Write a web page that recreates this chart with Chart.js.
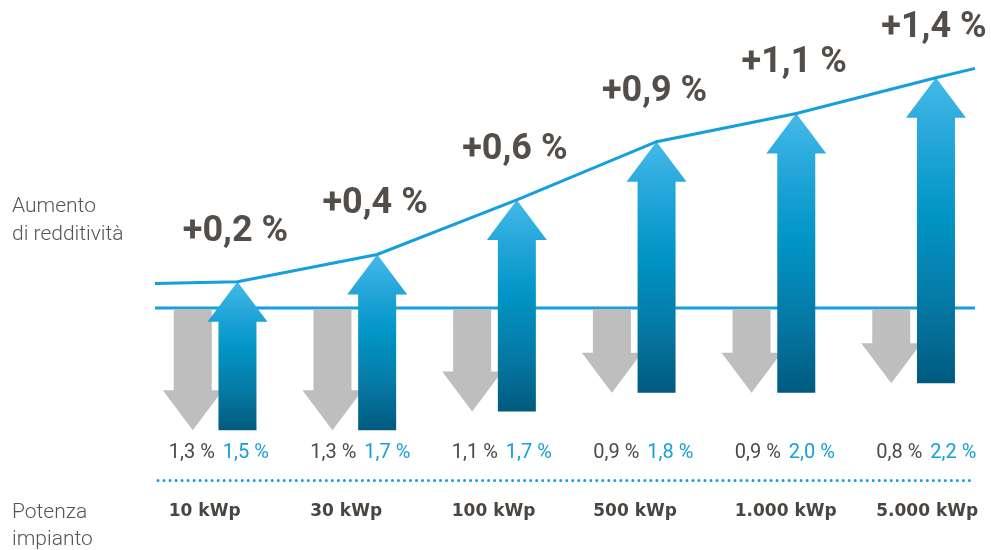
<!DOCTYPE html>
<html lang="it">
<head>
<meta charset="utf-8">
<title>Aumento di redditività</title>
<script src="https://cdn.jsdelivr.net/npm/chart.js@4.4.1/dist/chart.umd.min.js"></script>
<style>
  html, body { margin: 0; padding: 0; background: #fff; }
  #wrap { width: 991px; height: 550px; }
</style>
</head>
<body>
<div id="wrap"><canvas id="chart" width="991" height="550"></canvas></div>
<script>
const CATEGORIES = ['10 kWp', '30 kWp', '100 kWp', '500 kWp', '1.000 kWp', '5.000 kWp'];
const LOSS = [1.3, 1.3, 1.1, 0.9, 0.9, 0.8];   // grey arrows (down)
const GAIN = [1.5, 1.7, 1.7, 1.8, 2.0, 2.2];   // blue values
const NET = [0.2, 0.4, 0.6, 0.9, 1.1, 1.4];    // big labels
// tip of each blue arrow as drawn -- the graphic is not to scale above the baseline
const ARROW_TOP = [0.28, 0.57, 1.15, 1.77, 2.07, 2.45];
// the trend line runs a bit past the first and last arrow
const LINE_LEAD = { x: -0.59, y: 0.26 };
const LINE_TAIL = { x: 5.28, y: 2.55 };

const GREY_SHIFT = -0.32;   // grey arrow sits left of its blue partner
const BLUE = '#159fdc';
const GREY_ARROW = '#bebebe';
const TEXT = '#4e4945';

const fmt = v => v.toFixed(1).replace('.', ',');

// --- arrows: bar geometry comes from Chart.js, we only change the shape ---

function drawArrow(ctx, el, up, fill) {
  const { x, y, base, width } = el.getProps(['x', 'y', 'base', 'width'], true);
  const half = width / 2;
  const headHalf = half + 11;
  const headH = 40;
  // floating bars may come back with y/base swapped
  const tip = up ? Math.min(y, base) : Math.max(y, base);
  const foot = up ? Math.max(y, base) : Math.min(y, base) + 1;
  const neck = up ? tip + headH : tip - headH;
  ctx.beginPath();
  ctx.moveTo(x - half, foot);
  ctx.lineTo(x - half, neck);
  ctx.lineTo(x - headHalf, neck);
  ctx.lineTo(x, tip);
  ctx.lineTo(x + headHalf, neck);
  ctx.lineTo(x + half, neck);
  ctx.lineTo(x + half, foot);
  ctx.closePath();
  ctx.fillStyle = typeof fill === 'function' ? fill(ctx, tip, foot) : fill;
  ctx.fill();
}

function blueGradient(ctx, top, bottom) {
  const g = ctx.createLinearGradient(0, top, 0, bottom);
  g.addColorStop(0, '#43bae8');
  g.addColorStop(0.18, '#28a8dc');
  g.addColorStop(0.45, '#0095c5');
  g.addColorStop(0.75, '#0678a4');
  g.addColorStop(1, '#005a7e');
  return g;
}

const arrowPlugin = {
  id: 'arrows',
  beforeDatasetDraw(chart, args) {
    if (chart.data.datasets[args.index].arrow) return false;
  },
  afterDatasetDraw(chart, args) {
    // arrows go right after the baseline, under the trend line
    if (!chart.data.datasets[args.index].isBaseline) return;
    const ctx = chart.ctx;
    ctx.save();
    chart.getDatasetMeta(0).data.forEach(el => drawArrow(ctx, el, false, GREY_ARROW));
    chart.getDatasetMeta(1).data.forEach(el => drawArrow(ctx, el, true, blueGradient));
    ctx.restore();
  },
};

// --- texts ---

const textPlugin = {
  id: 'texts',
  afterDraw(chart) {
    const ctx = chart.ctx;
    const grey = chart.getDatasetMeta(0).data;
    const blue = chart.getDatasetMeta(1).data;
    const xs = chart.scales.x;
    ctx.save();
    ctx.textBaseline = 'alphabetic';

    // big net gain above each blue arrow
    ctx.font = 'bold 36px Roboto';
    ctx.fillStyle = '#534e4a';
    ctx.textAlign = 'center';
    blue.forEach((el, i) => {
      const tip = Math.min(el.y, el.base);
      ctx.fillText('+' + fmt(NET[i]) + ' %', el.x - 2, tip - 41);
    });

    // loss / gain values and plant size, left aligned under the grey arrow
    ctx.textAlign = 'left';
    grey.forEach((el, i) => {
      const left = el.x - 24 + 1.8 * i;
      ctx.font = '20px Roboto';
      ctx.fillStyle = TEXT;
      const lossTxt = fmt(LOSS[i]) + ' %';
      ctx.fillText(lossTxt, left, 458);
      ctx.fillStyle = BLUE;
      ctx.fillText(fmt(GAIN[i]) + ' %', left + ctx.measureText(lossTxt).width + 8, 458);

      ctx.font = 'bold 17px "DejaVu Sans"';
      ctx.fillStyle = '#4a4541';
      ctx.fillText(CATEGORIES[i], left, 516);
    });

    // dotted rule
    ctx.strokeStyle = BLUE;
    ctx.lineWidth = 3;
    ctx.lineCap = 'round';
    ctx.setLineDash([0.01, 6]);
    ctx.beginPath();
    ctx.moveTo(xs.getPixelForValue(LINE_LEAD.x) + 3, 480.5);
    ctx.lineTo(xs.getPixelForValue(LINE_TAIL.x) - 2, 480.5);
    ctx.stroke();
    ctx.setLineDash([]);

    // side captions
    ctx.font = '300 21px Roboto';
    ctx.fillStyle = '#5a5552';
    ctx.fillText('Aumento', 12, 212);
    ctx.fillText('di redditività', 12, 240);
    ctx.fillText('Potenza', 12, 518);
    ctx.fillText('impianto', 12, 545);
    ctx.restore();
  },
};

new Chart(document.getElementById('chart'), {
  type: 'bar',
  data: {
    datasets: [
      {
        label: 'Perdita',
        data: LOSS.map((v, i) => ({ x: i + GREY_SHIFT, y: -v })),
        backgroundColor: GREY_ARROW,
        arrow: true,
        grouped: false,
        barThickness: 38,
        order: 1,
      },
      {
        label: 'Guadagno',
        data: LOSS.map((v, i) => ({ x: i, y: [-v, ARROW_TOP[i]] })),
        backgroundColor: '#0095c5',
        arrow: true,
        grouped: false,
        barThickness: 38,
        order: 2,
      },
      {
        type: 'line',
        label: 'Aumento di redditività',
        data: [LINE_LEAD, ...ARROW_TOP.map((y, i) => ({ x: i, y })), LINE_TAIL],
        borderColor: BLUE,
        borderWidth: 3,
        pointRadius: 0,
        tension: 0,
        order: 0,
      },
      {
        type: 'line',
        label: 'Base',
        data: [{ x: LINE_LEAD.x, y: 0 }, { x: LINE_TAIL.x, y: 0 }],
        borderColor: BLUE,
        borderWidth: 3,
        pointRadius: 0,
        isBaseline: true,
        order: 10,
      },
    ],
  },
  options: {
    responsive: false,
    animation: false,
    events: [],
    layout: { padding: { left: 145.4, right: 7.4, top: 0, bottom: 0 } },
    plugins: {
      legend: { display: false },
      tooltip: { enabled: false },
    },
    scales: {
      x: { type: 'linear', display: false, offset: false, min: -0.659, max: 5.341 },
      y: { display: false, min: -2.574, max: 3.277 },
    },
  },
  plugins: [arrowPlugin, textPlugin],
});
</script>
</body>
</html>
